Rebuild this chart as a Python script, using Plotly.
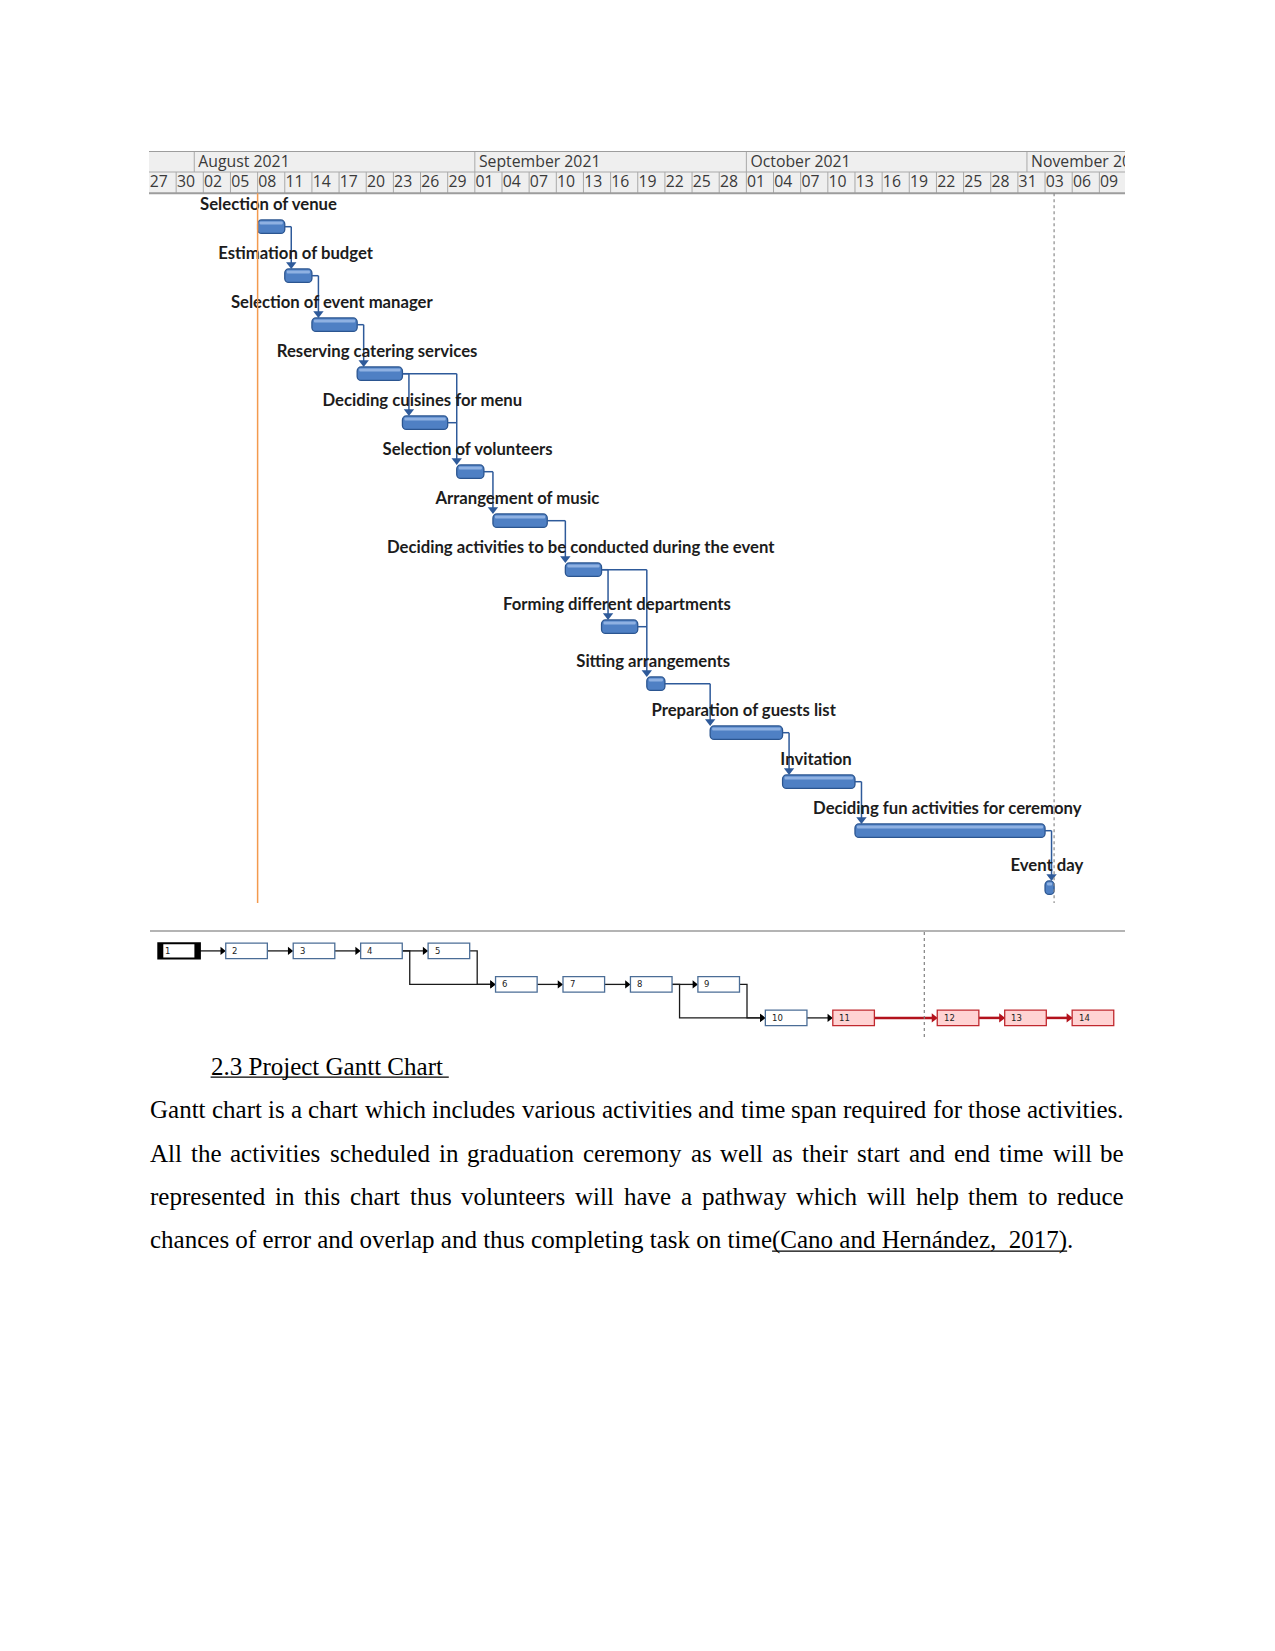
import plotly.graph_objects as go
import pandas as pd

W, H = 1275, 1651

# ---------------- data ----------------
task_names = [
    "Selection of venue",
    "Estimation of budget",
    "Selection of event manager",
    "Reserving catering services",
    "Deciding cuisines for menu",
    "Selection of volunteers",
    "Arrangement of music",
    "Deciding activities to be conducted during the event",
    "Forming different departments",
    "Sitting arrangements",
    "Preparation of guests list",
    "Invitation",
    "Deciding fun activities for ceremony",
    "Event day",
]
task_starts = ["2021-08-08", "2021-08-11", "2021-08-14", "2021-08-19", "2021-08-24",
               "2021-08-30", "2021-09-03", "2021-09-11", "2021-09-15", "2021-09-20",
               "2021-09-27", "2021-10-05", "2021-10-13", "2021-11-03"]
task_finishes = ["2021-08-11", "2021-08-14", "2021-08-19", "2021-08-24", "2021-08-29",
                 "2021-09-02", "2021-09-09", "2021-09-15", "2021-09-19", "2021-09-22",
                 "2021-10-05", "2021-10-13", "2021-11-03", "2021-11-04"]
task_predecessors = [[], [1], [2], [3], [4], [4, 5], [6], [7], [8], [8, 9],
                     [10], [11], [12], [13]]
critical_tasks = [11, 12, 13, 14]

status_date = "2021-08-08"
finish_marker_date = "2021-11-04"
view_start = "2021-07-27"
view_end = "2021-11-11 20:00"

month_labels = ["", "August 2021", "September 2021", "October 2021", "November 2021"]
month_starts = ["2021-07-27", "2021-08-01", "2021-09-01", "2021-10-01", "2021-11-01"]
day_labels = ["27", "30", "02", "05", "08", "11", "14", "17", "20", "23", "26", "29",
              "01", "04", "07", "10", "13", "16", "19", "22", "25", "28",
              "01", "04", "07", "10", "13", "16", "19", "22", "25", "28", "31",
              "03", "06", "09"]

heading_text = "2.3 Project Gantt Chart"
paragraph_lines = [
    "Gantt chart is a chart which includes various activities and time span required for those activities.",
    "All the activities scheduled in graduation ceremony as well as their start and end time will be",
    "represented in this chart thus volunteers will have a pathway which will help them to reduce",
]
last_line_text = "chances of error and overlap and thus completing task on time"
citation_text = "(Cano and Hern\u00e1ndez,\u00a0 2017)"
last_line_tail = "."

# ---------------- layout constants ----------------
PX_PER_DAY = 9.052
DAY = pd.Timedelta(days=1)
GX0, GX1 = 149, 1125            # gantt plot area (page px)
GY0, GY1 = 151, 903
HDR_TOP, HDR_MID, HDR_BOT = 151, 172, 193.3
ROW_Y0 = 226.7
row_gaps = [49] * 7 + [57, 57] + [49] * 3 + [57]
BAR_H = 13.5
LABEL_DY = 20.6

NET_X0, NET_DX = 158.3, 67.45
NET_Y0, NET_DY = 950.9, 33.5
NET_BOX_W, NET_BOX_H = 41.6, 15.4
NET_BREAK_COL, NET_BREAK_SHIFT = 11, 37.0
NET_BREAK_X = 924.3
node_rows = [0, 0, 0, 0, 0, 1, 1, 1, 1, 2, 2, 2, 2, 2]
selected_node = 1

TEXT_LEFT, TEXT_RIGHT = 150, 1124
FS_BODY = 25
LINE_Y0, LINE_DY = 1109.8, 43.5

TIMES = {' ': 250, '\u00a0': 250, '.': 250, ',': 250, '(': 333, ')': 333, '\u00e1': 444,
         'a': 444, 'b': 500, 'c': 444, 'd': 500, 'e': 444, 'f': 333, 'g': 500, 'h': 500,
         'i': 278, 'j': 278, 'k': 500, 'l': 278, 'm': 778, 'n': 500, 'o': 500, 'p': 500,
         'q': 500, 'r': 333, 's': 389, 't': 278, 'u': 500, 'v': 500, 'w': 722, 'x': 500,
         'y': 500, 'z': 444, 'A': 722, 'B': 667, 'C': 667, 'D': 722, 'E': 611, 'F': 556,
         'G': 722, 'H': 722, 'I': 333, 'J': 389, 'K': 722, 'L': 611, 'M': 889, 'N': 722,
         'O': 722, 'P': 556, 'Q': 722, 'R': 667, 'S': 556, 'T': 611, 'U': 722, 'V': 722,
         'W': 944, 'X': 722, 'Y': 722, 'Z': 611}


def tw(s, fs=FS_BODY):
    return sum(TIMES.get(c, 500) for c in s) * fs / 1000.0


# ---------------- derived ----------------
starts = [pd.Timestamp(s) for s in task_starts]
finishes = [pd.Timestamp(s) for s in task_finishes]
row_y = [ROW_Y0]
for g in row_gaps:
    row_y.append(row_y[-1] + g)

fig = go.Figure()
shapes = []
annotations = []

# ---------------- header (timescale) ----------------
shapes.append(dict(type="rect", xref="x", yref="y", x0=view_start, x1=view_end,
                   y0=HDR_TOP, y1=HDR_BOT, fillcolor="#efefef", line_width=0, layer="below"))
day_dates = pd.date_range(view_start, periods=len(day_labels), freq="3D")
for m in month_starts[1:]:
    shapes.append(dict(type="line", xref="x", yref="y", x0=m, x1=m, y0=HDR_TOP, y1=HDR_MID,
                       line=dict(color="#a9a9a9", width=1)))
for d in day_dates[1:]:
    shapes.append(dict(type="line", xref="x", yref="y", x0=d, x1=d, y0=HDR_MID, y1=HDR_BOT,
                       line=dict(color="#a9a9a9", width=1)))
shapes.append(dict(type="line", xref="x", yref="y", x0=view_start, x1=view_end,
                   y0=HDR_MID, y1=HDR_MID, line=dict(color="#a9a9a9", width=1)))
for yy in (HDR_TOP, HDR_BOT):
    shapes.append(dict(type="line", xref="x", yref="y", x0=view_start, x1=view_end,
                       y0=yy, y1=yy, line=dict(color="#9d9d9d", width=2)))

hdr_font = dict(family="Open Sans", size=15.8, color="#3a3a3a")
fig.add_trace(go.Scatter(
    x=[pd.Timestamp(m) + 0.45 * DAY for m in month_starts], y=[162.8] * len(month_starts),
    text=month_labels, mode="text", textposition="middle right", cliponaxis=True,
    textfont=hdr_font, hoverinfo="skip", showlegend=False))
fig.add_trace(go.Scatter(
    x=[d + 0.08 * DAY for d in day_dates], y=[183.3] * len(day_dates),
    text=day_labels, mode="text", textposition="middle right", cliponaxis=True,
    textfont=hdr_font, hoverinfo="skip", showlegend=False))

# ---------------- status / finish lines ----------------
shapes.append(dict(type="line", xref="x", yref="y", x0=status_date, x1=status_date,
                   y0=HDR_BOT, y1=GY1, line=dict(color="#f39a4e", width=1.5)))
shapes.append(dict(type="line", xref="x", yref="y", x0=finish_marker_date, x1=finish_marker_date,
                   y0=HDR_BOT, y1=GY1, line=dict(color="#8a8a8a", width=1.2, dash="dot")))

# ---------------- connectors ----------------
cx, cy, ax_, ay_ = [], [], [], []
for i, preds in enumerate(task_predecessors):
    if not preds:
        continue
    pidx = [p - 1 for p in preds]
    pend = max(finishes[j] for j in pidx)
    xl = max(pend + (6.5 / PX_PER_DAY) * DAY, starts[i])
    for j in pidx:
        cx += [finishes[j], xl, None]
        cy += [row_y[j], row_y[j], None]
    ytop = min(row_y[j] for j in pidx)
    ybar = row_y[i] - BAR_H / 2
    cx += [xl, xl, None]
    cy += [ytop, ybar - 3, None]
    ax_.append(xl)
    ay_.append(ybar - 4.5)
fig.add_trace(go.Scatter(x=cx, y=cy, mode="lines", line=dict(color="#2e5a9a", width=1.5),
                         hoverinfo="skip", showlegend=False))
fig.add_trace(go.Scatter(x=ax_, y=ay_, mode="markers",
                         marker=dict(symbol="triangle-down", size=9, color="#2e5a9a", line_width=0),
                         hoverinfo="skip", showlegend=False))

# ---------------- bars ----------------
dur_ms = [(f - s).total_seconds() * 1000 for s, f in zip(starts, finishes)]
fig.add_trace(go.Bar(
    orientation="h", y=row_y, x=dur_ms, base=[s.isoformat() for s in starts],
    width=BAR_H, marker=dict(color="#4f80c4", line=dict(color="#2b5590", width=1.3), cornerradius=4),
    hoverinfo="skip", showlegend=False))
hl_base = [(s + 0.22 * DAY).isoformat() for s in starts]
hl_len = [d - 0.44 * 86400000 for d in dur_ms]
fig.add_trace(go.Bar(
    orientation="h", y=row_y, x=hl_len, base=hl_base, width=3.2, offset=-5.3,
    marker=dict(color="#8fb1e2", line=dict(width=0), cornerradius=1.5),
    hoverinfo="skip", showlegend=False))

# ---------------- task labels ----------------
fig.add_trace(go.Scatter(
    x=[s + (f - s) / 2 - 0.3 * DAY for s, f in zip(starts, finishes)],
    y=[y - LABEL_DY for y in row_y],
    text=task_names, mode="text", textposition="middle center", cliponaxis=False,
    textfont=dict(family="Lato", size=16.7, color="#1c1c1c", weight="bold"),
    hoverinfo="skip", showlegend=False))

# ---------------- network diagram ----------------
shapes.append(dict(type="line", xref="x2", yref="y2", x0=150, x1=1125, y0=931, y1=931,
                   line=dict(color="#b4b4b4", width=2)))
shapes.append(dict(type="line", xref="x2", yref="y2", x0=NET_BREAK_X, x1=NET_BREAK_X,
                   y0=932, y1=1037, line=dict(color="#808080", width=1.2, dash="3px,3px")))


def node_x(i):
    return NET_X0 + NET_DX * i + (NET_BREAK_SHIFT if i >= NET_BREAK_COL else 0)


def node_y(i):
    return NET_Y0 + NET_DY * node_rows[i]


n_nodes = len(task_names)
for i in range(n_nodes):
    x0, yc = node_x(i), node_y(i)
    crit = (i + 1) in critical_tasks
    if (i + 1) == selected_node:
        shapes.append(dict(type="rect", xref="x2", yref="y2", x0=x0, x1=x0 + NET_BOX_W,
                           y0=yc - NET_BOX_H / 2, y1=yc + NET_BOX_H / 2, fillcolor="white",
                           line=dict(color="#000000", width=2)))
        for a, b in ((x0, x0 + 5), (x0 + NET_BOX_W - 5.5, x0 + NET_BOX_W)):
            shapes.append(dict(type="rect", xref="x2", yref="y2", x0=a, x1=b,
                               y0=yc - NET_BOX_H / 2, y1=yc + NET_BOX_H / 2,
                               fillcolor="#000000", line_width=0))
    else:
        shapes.append(dict(type="rect", xref="x2", yref="y2", x0=x0, x1=x0 + NET_BOX_W,
                           y0=yc - NET_BOX_H / 2, y1=yc + NET_BOX_H / 2,
                           fillcolor="#ffd3d3" if crit else "white",
                           line=dict(color="#c0282e" if crit else "#4b6d96", width=1.3)))
    annotations.append(dict(xref="x2", yref="y2", x=x0 + 6.5, y=yc, text=str(i + 1),
                            xanchor="left", yanchor="middle", showarrow=False,
                            borderpad=0, borderwidth=0,
                            font=dict(family="DejaVu Sans", size=8.5, color="#222222")))

nx_norm, ny_norm, nx_crit, ny_crit = [], [], [], []
arr_norm, arr_crit = ([], []), ([], [])
for i, preds in enumerate(task_predecessors):
    for p in preds:
        j = p - 1
        crit = (p in critical_tasks) and ((i + 1) in critical_tasks)
        px_, py_ = node_x(j) + NET_BOX_W, node_y(j)
        sx_, sy_ = node_x(i), node_y(i)
        if node_rows[i] == node_rows[j]:
            xs, ys = [px_, sx_ - 3], [py_, sy_]
        else:
            xt = px_ + 7.5
            xs, ys = [px_, xt, xt, sx_ - 3], [py_, py_, sy_, sy_]
        if crit:
            nx_crit += xs + [None]; ny_crit += ys + [None]
            arr_crit[0].append(sx_ - 3.5); arr_crit[1].append(sy_)
        else:
            nx_norm += xs + [None]; ny_norm += ys + [None]
            arr_norm[0].append(sx_ - 3.5); arr_norm[1].append(sy_)
fig.add_trace(go.Scatter(x=nx_norm, y=ny_norm, mode="lines", xaxis="x2", yaxis="y2",
                         line=dict(color="#1a1a1a", width=1.3), hoverinfo="skip", showlegend=False))
fig.add_trace(go.Scatter(x=nx_crit, y=ny_crit, mode="lines", xaxis="x2", yaxis="y2",
                         line=dict(color="#b3121c", width=2.5), hoverinfo="skip", showlegend=False))
fig.add_trace(go.Scatter(x=arr_norm[0], y=arr_norm[1], mode="markers", xaxis="x2", yaxis="y2",
                         marker=dict(symbol="triangle-right", size=7, color="#000000", line_width=0),
                         hoverinfo="skip", showlegend=False))
fig.add_trace(go.Scatter(x=arr_crit[0], y=arr_crit[1], mode="markers", xaxis="x2", yaxis="y2",
                         marker=dict(symbol="triangle-right", size=8, color="#b3121c", line_width=0),
                         hoverinfo="skip", showlegend=False))

# ---------------- text block ----------------
body_font = dict(family="Liberation Serif", size=FS_BODY, color="#000000")
HEAD_X, HEAD_Y = 210.6, 1066.3
annotations.append(dict(xref="x2", yref="y2", x=HEAD_X, y=HEAD_Y, text=heading_text,
                        xanchor="left", yanchor="middle", showarrow=False,
                        borderpad=0, borderwidth=0, font=body_font))
shapes.append(dict(type="line", xref="x2", yref="y2", x0=HEAD_X, x1=HEAD_X + tw(heading_text + " "),
                   y0=HEAD_Y + 10.8, y1=HEAD_Y + 10.8, line=dict(color="#000000", width=1.3)))

for k, line in enumerate(paragraph_lines):
    words = line.split(" ")
    widths = [tw(w) for w in words]
    gap = (TEXT_RIGHT - TEXT_LEFT - sum(widths)) / (len(words) - 1)
    xcur = TEXT_LEFT
    yk = LINE_Y0 + LINE_DY * k
    for w, wd in zip(words, widths):
        annotations.append(dict(xref="x2", yref="y2", x=xcur, y=yk, text=w,
                                xanchor="left", yanchor="middle", showarrow=False,
                                borderpad=0, borderwidth=0, font=body_font))
        xcur += wd + gap

y_last = LINE_Y0 + LINE_DY * len(paragraph_lines)
annotations.append(dict(xref="x2", yref="y2", x=TEXT_LEFT, y=y_last,
                        text=last_line_text + citation_text + last_line_tail,
                        xanchor="left", yanchor="middle", showarrow=False,
                        borderpad=0, borderwidth=0, font=body_font))
c0 = TEXT_LEFT + tw(last_line_text)
c1 = c0 + tw(citation_text)
shapes.append(dict(type="line", xref="x2", yref="y2", x0=c0, x1=c1,
                   y0=y_last + 10.8, y1=y_last + 10.8, line=dict(color="#000000", width=1.3)))

# ---------------- layout ----------------
fig.update_layout(
    width=W, height=H, margin=dict(l=0, r=0, t=0, b=0),
    paper_bgcolor="white", plot_bgcolor="rgba(0,0,0,0)",
    showlegend=False, barmode="overlay",
    xaxis=dict(type="date", domain=[GX0 / W, GX1 / W], range=[view_start, view_end],
               visible=False, fixedrange=True, anchor="y"),
    yaxis=dict(domain=[1 - GY1 / H, 1 - GY0 / H], range=[GY1, GY0], visible=False,
               fixedrange=True, anchor="x"),
    xaxis2=dict(domain=[0, 1], range=[0, W], visible=False, anchor="y2", fixedrange=True),
    yaxis2=dict(domain=[0, 1], range=[H, 0], visible=False, anchor="x2", fixedrange=True),
    shapes=shapes, annotations=annotations,
)

fig.write_html("out.html")
